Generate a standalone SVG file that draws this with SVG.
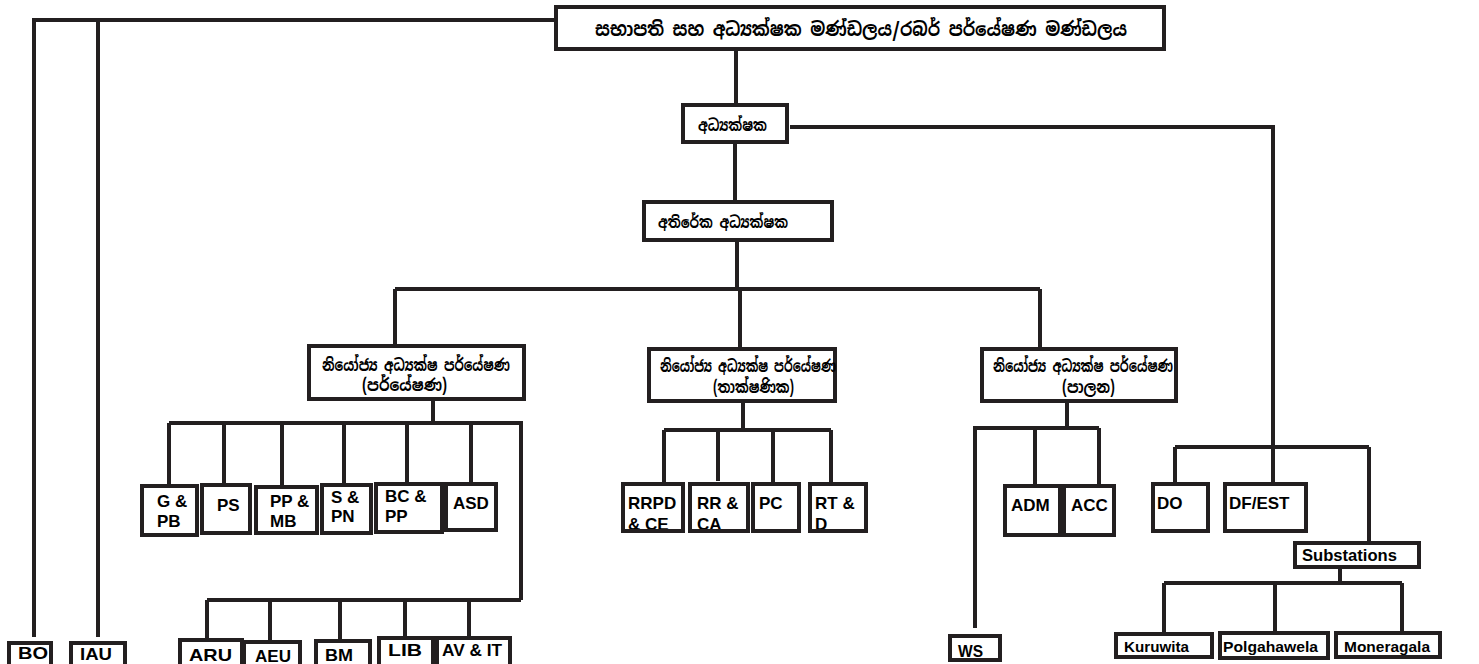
<svg xmlns="http://www.w3.org/2000/svg" width="1479" height="664" viewBox="0 0 1479 664">
<style>
.bx{fill:#fff;stroke:#231f20;stroke-width:4}
.bf{fill:#fff}
.bs{fill:none;stroke:#231f20;stroke-width:4}
.ln{fill:none;stroke:#231f20;stroke-width:4}
.si{font-family:"Noto Sans Sinhala","Iskoola Pota","Noto Sans",sans-serif;font-weight:bold;fill:#000}
.t{font-family:"Liberation Sans",Arial,sans-serif;font-weight:bold;font-size:17px;fill:#000}
.t2{font-family:"Liberation Sans",Arial,sans-serif;font-weight:bold;font-size:15.5px;fill:#000}
</style>
<rect width="1479" height="664" fill="#fff"/>
<g id="connectors">
<path class="ln" d="M555 20H34V637M98 20V637"/>
<path class="ln" d="M736 50V103M790 127H1273V447M735 143V200M737 242V289M395 289H1040M395 289V345M740 289V348M1040 289V348"/>
<path class="ln" d="M433 401V423M169 423H521V600M169 423V485M224 423V484M282 423V487M344 423V484M407 423V483M471 423V483"/>
<path class="ln" d="M207 600H521M207 600V639M270 600V641M340 600V640M405 600V637M469 600V637"/>
<path class="ln" d="M743 401V430M664 430H831M664 430V483M718 430V481M773 430V483M831 430V483"/>
<path class="ln" d="M1067 402V428M973 428H1099M975 428V628M1035 428V485M1099 428V485"/>
<path class="ln" d="M1175 447H1369M1175 447V483M1273 447V483M1369 447V542"/>
<path class="ln" d="M1340 565V583M1164 583H1402M1164 583V633M1275 583V632M1402 583V632"/>
</g>
<g id="n-board"><rect class="bx" x="556" y="7" width="608" height="42"/><text class="si" x="595" y="36" font-size="19" textLength="532" lengthAdjust="spacingAndGlyphs">සභාපති සහ අධ්‍යක්ෂක මණ්ඩලය/රබර් පර්යේෂණ මණ්ඩලය</text></g>
<g id="n-director"><rect class="bx" x="683" y="105" width="104" height="37"/><text class="si" x="698" y="131" font-size="16" textLength="69" lengthAdjust="spacingAndGlyphs">අධ්‍යක්ෂක</text></g>
<g id="n-addl"><rect class="bx" x="644" y="202" width="188" height="38"/><text class="si" x="658" y="228" font-size="16" textLength="130" lengthAdjust="spacingAndGlyphs">අතිරේක අධ්‍යක්ෂක</text></g>
<g id="n-dd-research"><rect class="bx" x="309" y="346" width="215" height="53"/><text class="si" x="322" y="371" font-size="17" textLength="188" lengthAdjust="spacingAndGlyphs">නියෝජ්‍ය අධ්‍යක්ෂ පර්යේෂණ</text><text class="si" x="362" y="391" font-size="17" textLength="85" lengthAdjust="spacingAndGlyphs">(පර්යේෂණ)</text></g>
<g id="n-dd-tech"><rect class="bx" x="649" y="349" width="186" height="52"/><text class="si" x="660" y="372" font-size="17" textLength="176" lengthAdjust="spacingAndGlyphs">නියෝජ්‍ය අධ්‍යක්ෂ පර්යේෂණ</text><text class="si" x="713" y="393" font-size="17" textLength="81" lengthAdjust="spacingAndGlyphs">(තාක්ෂණික)</text></g>
<g id="n-dd-admin"><rect class="bx" x="982" y="349" width="194" height="52"/><text class="si" x="993" y="372" font-size="17" textLength="180" lengthAdjust="spacingAndGlyphs">නියෝජ්‍ය අධ්‍යක්ෂ පර්යේෂණ</text><text class="si" x="1062" y="393" font-size="17" textLength="53" lengthAdjust="spacingAndGlyphs">(පාලන)</text></g>
<g id="n-gpb"><rect class="bx" x="142" y="486" width="55" height="49"/><text class="t" x="157" y="507">G &amp;</text><text class="t" x="157" y="527">PB</text></g>
<g id="n-ps"><rect class="bx" x="202" y="485" width="48" height="48"/><text class="t" x="217" y="511">PS</text></g>
<g id="n-ppmb"><rect class="bx" x="256" y="487" width="61" height="46"/><text class="t" x="270" y="507">PP &amp;</text><text class="t" x="270" y="527">MB</text></g>
<g id="n-spn"><rect class="bx" x="322" y="485" width="49" height="48"/><text class="t" x="331" y="503">S &amp;</text><text class="t" x="331" y="522">PN</text></g>
<g id="n-bcpp"><rect class="bx" x="376" y="484" width="66" height="48"/><text class="t" x="385" y="502">BC &amp;</text><text class="t" x="385" y="522">PP</text></g>
<g id="n-asd"><rect class="bx" x="446" y="484" width="50" height="46"/><text class="t" x="453" y="509">ASD</text></g>
<g id="n-rrpd"><rect class="bf" x="623" y="484" width="60" height="47"/><text class="t" x="628" y="509">RRPD</text><text class="t" x="628" y="530">&amp; CE</text><rect class="bs" x="623" y="484" width="60" height="47"/></g>
<g id="n-rrca"><rect class="bf" x="690" y="484" width="58" height="47"/><text class="t" x="697" y="509">RR &amp;</text><text class="t" x="697" y="530">CA</text><rect class="bs" x="690" y="484" width="58" height="47"/></g>
<g id="n-pc"><rect class="bx" x="753" y="484" width="46" height="47"/><text class="t" x="759" y="509">PC</text></g>
<g id="n-rtd"><rect class="bf" x="810" y="484" width="56" height="47"/><text class="t" x="815" y="509">RT &amp;</text><text class="t" x="815" y="530">D</text><rect class="bs" x="810" y="484" width="56" height="47"/></g>
<g id="n-adm"><rect class="bx" x="1005" y="486" width="55" height="49"/><text class="t" x="1011" y="511">ADM</text></g>
<g id="n-acc"><rect class="bx" x="1064" y="486" width="50" height="49"/><text class="t" x="1071" y="511">ACC</text></g>
<g id="n-do"><rect class="bx" x="1153" y="484" width="55" height="47"/><text class="t" x="1157" y="509">DO</text></g>
<g id="n-dfest"><rect class="bx" x="1225" y="484" width="81" height="47"/><text class="t" x="1229" y="509">DF/EST</text></g>
<g id="n-subst"><rect class="bx" x="1295" y="543" width="124" height="24"/><text class="t" x="1302" y="561" textLength="95" lengthAdjust="spacingAndGlyphs">Substations</text></g>
<g id="n-bo"><rect class="bx" x="9" y="643" width="42" height="24"/><text class="t" x="18" y="659" textLength="30" lengthAdjust="spacingAndGlyphs">BO</text></g>
<g id="n-iau"><rect class="bx" x="71" y="643" width="54" height="24"/><text class="t" x="80" y="660" textLength="32" lengthAdjust="spacingAndGlyphs">IAU</text></g>
<g id="n-aru"><rect class="bx" x="180" y="640" width="62" height="26"/><text class="t" x="189" y="661" textLength="43" lengthAdjust="spacingAndGlyphs">ARU</text></g>
<g id="n-aeu"><rect class="bx" x="244" y="642" width="56" height="24"/><text class="t" x="255" y="662" textLength="36" lengthAdjust="spacingAndGlyphs">AEU</text></g>
<g id="n-bm"><rect class="bx" x="316" y="641" width="54" height="25"/><text class="t" x="325" y="661" textLength="28" lengthAdjust="spacingAndGlyphs">BM</text></g>
<g id="n-lib"><rect class="bx" x="379" y="638" width="54" height="28"/><text class="t" x="388" y="656" textLength="34" lengthAdjust="spacingAndGlyphs">LIB</text></g>
<g id="n-avit"><rect class="bx" x="437" y="638" width="73" height="28"/><text class="t" x="442" y="656" textLength="60" lengthAdjust="spacingAndGlyphs">AV &amp; IT</text></g>
<g id="n-ws"><rect class="bx" x="950" y="636" width="50" height="24"/><text class="t" x="958" y="657" textLength="25" lengthAdjust="spacingAndGlyphs">WS</text></g>
<g id="n-kuruwita"><rect class="bx" x="1116" y="634" width="96" height="23"/><text class="t2" x="1124" y="652" textLength="65" lengthAdjust="spacingAndGlyphs">Kuruwita</text></g>
<g id="n-polgahawela"><rect class="bx" x="1220" y="633" width="108" height="25"/><text class="t2" x="1223" y="652" textLength="95" lengthAdjust="spacingAndGlyphs">Polgahawela</text></g>
<g id="n-moneragala"><rect class="bx" x="1336" y="633" width="104" height="24"/><text class="t2" x="1344" y="652" textLength="86" lengthAdjust="spacingAndGlyphs">Moneragala</text></g>
</svg>
